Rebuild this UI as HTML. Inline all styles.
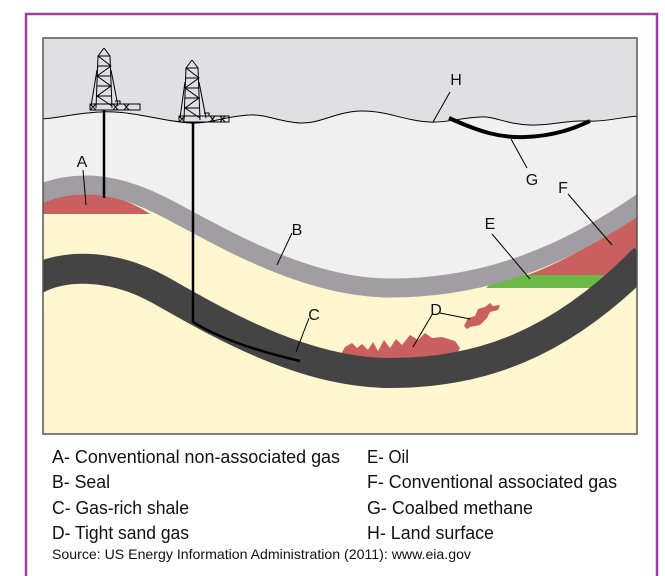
<!DOCTYPE html>
<html><head><meta charset="utf-8"><style>
html,body{margin:0;padding:0;background:#fff;width:665px;height:576px;overflow:hidden}
svg{display:block}
</style></head><body>
<svg width="665" height="576" viewBox="0 0 665 576" xmlns="http://www.w3.org/2000/svg" font-family="'Liberation Sans Narrow','Liberation Sans',sans-serif">
<rect x="26" y="14" width="631" height="580" fill="#fff" stroke="#9b3fa3" stroke-width="2.5"/>
<defs><clipPath id="c"><rect x="43" y="38" width="594" height="396"/></clipPath></defs>
<g clip-path="url(#c)">
<rect x="43" y="38" width="594" height="396" fill="#f0f0f0"/>
<path d="M40,38 L640,38 L640,116 C620,117 605,122 590,121 C565,120 550,126 530,125 C505,124 495,116 480,117 C460,118 445,123 430,122 C405,121 385,110 360,111 C335,112 320,124 300,123 C280,122 265,114 250,115 C225,116 210,124 190,123 C160,121 130,110 100,112 C75,113 55,119 40,119 Z" fill="#e0e0e2"/>
<path d="M35,196 C70,180 110,180 160,205 S300,288 390,288 S560,260 645,200 L645,440 L35,440 Z" fill="#fdf6cf"/>
<path d="M40,214 L40,200 C70,188 110,188 150,214 Z" fill="#c95f5f"/>
<path d="M522,277 Q585,255 645,205 L645,252 L610,277 Z" fill="#c95f5f"/>
<path d="M486,288 L500,275 L612,275 L600,288 Z" fill="#6aba45"/>
<path d="M340,356 L345,347 L352,343 L357,348 L362,344 L368,350 L373,342 L378,351 L384,340 L390,348 L396,339 L402,345 L410,335 L418,340 L425,333 L432,338 L442,337 L455,341 L460,348 L455,357 L400,361 L345,360 Z" fill="#c95f5f"/>
<path d="M464,326 L468,318 L475,316 L478,309 L485,307 L490,303 L493,306 L500,305 L498,310 L490,312 L487,318 L480,325 L470,327 L467,329 Z" fill="#c95f5f"/>
<path d="M35,196 C70,180 110,180 160,205 S300,288 390,288 S560,260 645,200" fill="none" stroke="#a09ea3" stroke-width="19"/>
<path d="M35,280 C60,265 110,262 160,290 S300,373 390,373 S560,345 645,258" fill="none" stroke="#444" stroke-width="30"/>
<path d="M104,110 L104,198" stroke="#000" stroke-width="2.5"/>
<path d="M193,122 L193,322 Q230,345 300,361" fill="none" stroke="#000" stroke-width="2.5"/>
<path d="M40,119 C55,119 75,113 100,112 C130,110 160,121 190,123 C210,124 225,116 250,115 C265,114 280,122 300,123 C320,124 335,112 360,111 C385,110 405,121 430,122 C445,123 460,118 480,117 C495,116 505,124 530,125 C550,126 565,120 590,121 C605,122 620,117 640,116" fill="none" stroke="#000" stroke-width="1"/>
<path d="M449,118 C480,132 500,138 525,137 C555,136 575,128 590,121" fill="none" stroke="#000" stroke-width="4"/>
<g stroke="#000" stroke-width="1" fill="none">
<path d="M104,48 L98,56 L96,108 M104,48 L110,56 L112,108 M98,56 L110,56 M97,66 L111,66 M97,76 L111,76 M97,86 L111,86 M97,96 L111,96 M98,56 L111,66 L97,76 L111,86 L97,96 L112,106 M97,70 L91,106 M111,70 L118,106"/>
<path d="M90,104 h50 v6 h-50 z M90,104 l6,6 M96,104 l-6,6 M113,104 l5,6 M118,104 l-5,6 M124,104 l5,6 M129,104 l-5,6 M115,101 h5 v3"/>
<path d="M192,60 L186,68 L184,120 M192,60 L198,68 L200,120 M186,68 L198,68 M185,78 L199,78 M185,88 L199,88 M185,98 L199,98 M185,108 L199,108 M186,68 L199,78 L185,88 L199,98 L185,108 L200,118 M185,82 L180,118 M199,82 L206,118"/>
<path d="M179,116 h50 v6 h-50 z M179,116 l6,6 M185,116 l-6,6 M210,116 l5,6 M215,116 l-5,6 M220,116 l5,6 M225,116 l-5,6 M204,113 h5 v3"/>
</g>
<g stroke="#000" stroke-width="1">
<line x1="83" y1="170" x2="86" y2="205"/>
<line x1="292" y1="233" x2="277" y2="265"/>
<line x1="309" y1="318" x2="296" y2="352"/>
<line x1="433" y1="313" x2="413" y2="347"/>
<line x1="440" y1="313" x2="470" y2="319"/>
<line x1="492" y1="234" x2="530" y2="279"/>
<line x1="568" y1="194" x2="612" y2="245"/>
<line x1="527" y1="168" x2="511" y2="139"/>
<line x1="450" y1="92" x2="433" y2="122"/>
</g>
<g font-size="16" fill="#111" text-anchor="middle">
<text x="82" y="167">A</text>
<text x="297" y="235">B</text>
<text x="314" y="320">C</text>
<text x="436" y="315">D</text>
<text x="490" y="229">E</text>
<text x="563" y="193">F</text>
<text x="532" y="185">G</text>
<text x="456" y="85">H</text>
</g>
</g>
<rect x="43" y="38" width="594" height="396" fill="none" stroke="#555" stroke-width="1.5"/>
<g font-size="18" fill="#111">
<text x="52" y="463" textLength="288" lengthAdjust="spacingAndGlyphs">A- Conventional non-associated gas</text>
<text x="52" y="488" textLength="58" lengthAdjust="spacingAndGlyphs">B- Seal</text>
<text x="52" y="514" textLength="137" lengthAdjust="spacingAndGlyphs">C- Gas-rich shale</text>
<text x="52" y="539" textLength="137" lengthAdjust="spacingAndGlyphs">D- Tight sand gas</text>
<text x="367" y="463" textLength="42" lengthAdjust="spacingAndGlyphs">E- Oil</text>
<text x="367" y="488" textLength="250" lengthAdjust="spacingAndGlyphs">F- Conventional associated gas</text>
<text x="367" y="514" textLength="166" lengthAdjust="spacingAndGlyphs">G- Coalbed methane</text>
<text x="367" y="539" textLength="127" lengthAdjust="spacingAndGlyphs">H- Land surface</text>
</g>
<text x="52" y="559" font-size="14" fill="#111" textLength="419" lengthAdjust="spacingAndGlyphs">Source: US Energy Information Administration (2011): www.eia.gov</text>
</svg>
</body></html>
